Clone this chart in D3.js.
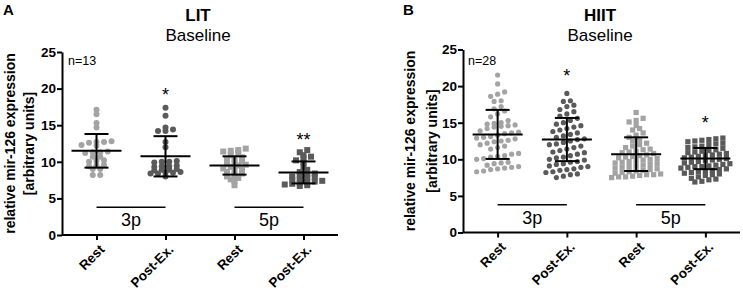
<!DOCTYPE html>
<html>
<head>
<meta charset="utf-8">
<script src="https://cdn.jsdelivr.net/npm/d3@7"></script>
<style>
  body { margin: 0; background: #fff; }
  svg { font-family: "Liberation Sans", Arial, sans-serif; }
</style>
</head>
<body>
<svg id="chart" width="743" height="295"></svg>
<script>
// -----------------------------------------------------------------------------
// Data
// -----------------------------------------------------------------------------

var categories = ["Rest", "Post-Ex.", "Rest", "Post-Ex."];
var primers = ["3p", "5p"];
var yTicks = [0, 5, 10, 15, 20, 25];

// LIT, n=13
var litRest3p = [17.1, 16.5, 15.3, 14.7, 12.8, 12.7, 12.6, 12.7, 12.2, 12.3, 11.3, 11.4, 11.2,
  11.3, 10.7, 10.7, 10.1, 10.0, 10.2, 9.5, 9.4, 9.6, 9.0, 9.0, 8.2, 8.2];
var litPost3p = [17.4, 16.3, 14.7, 14.2, 14.2, 14.4, 12.7, 12.0, 10.0, 10.0, 10.1, 9.9, 9.4,
  9.5, 9.4, 9.3, 8.9, 8.9, 9.0, 8.8, 8.5, 8.4, 8.5, 8.6, 8.4, 8.0];
var litRest5p = [11.8, 11.6, 11.5, 11.4, 11.2, 10.9, 10.6, 10.4, 10.3, 10.1, 9.9, 9.7, 9.6,
  9.5, 9.3, 9.1, 9.0, 8.8, 8.6, 8.4, 8.2, 8.0, 7.8, 7.6, 7.4, 6.8];
var litPost5p = [11.6, 11.3, 10.9, 10.7, 10.5, 10.2, 9.9, 9.4, 8.9, 8.6, 8.4, 8.3, 8.1,
  8.0, 7.9, 7.8, 7.6, 7.5, 7.4, 7.3, 7.2, 7.1, 7.0, 6.9, 6.8, 6.7];
var litMean = [11.5, 10.75, 9.5, 8.55];
var litSd = [2.3, 2.75, 1.25, 1.5];
var litStars = ["", "*", "", "**"];
var litStarAt = [null, 18.3, null, 12.2];

// HIIT, n=28
var hiitRest3p = [21.5, 20.3, 19.2, 18.9, 18.6, 18.0, 17.9, 17.2, 16.9, 16.6, 16.2, 15.8, 15.3, 15.0,
  14.9, 14.8, 14.6, 14.5, 14.4, 14.2, 13.9, 13.7, 13.5, 13.3, 13.1, 13.0, 12.8, 12.6,
  12.4, 12.2, 12.0, 11.8, 11.6, 11.4, 14.7, 13.6, 10.8, 10.7, 10.5, 10.4, 10.3, 10.1,
  10.0, 12.9, 12.5, 9.6, 9.5, 9.4, 9.2, 9.0, 8.9, 8.8, 8.7, 8.6, 8.4, 8.3];
var hiitPost3p = [19.0, 18.0, 17.9, 17.4, 17.2, 16.8, 16.5, 16.2, 15.9, 15.6, 15.3, 15.0, 14.8, 14.6,
  14.4, 14.2, 14.0, 13.8, 13.6, 13.4, 13.2, 13.0, 12.8, 12.7, 12.5, 12.3, 12.1, 12.0,
  11.8, 11.6, 11.4, 11.2, 11.0, 10.9, 10.7, 10.5, 10.3, 10.2, 10.0, 9.9, 9.7, 9.6,
  9.4, 9.3, 9.1, 9.0, 8.9, 8.7, 8.6, 8.5, 8.3, 8.2, 8.0, 7.9, 7.7, 7.5];
var hiitRest5p = [16.4, 15.6, 15.3, 15.1, 14.6, 14.2, 14.0, 13.6, 13.3, 13.0, 12.7, 12.5, 12.2, 12.0,
  11.8, 11.6, 11.4, 11.3, 11.1, 11.0, 10.9, 10.8, 10.6, 10.5, 10.4, 10.3, 10.2, 10.1,
  10.0, 9.9, 9.8, 9.7, 9.6, 9.5, 9.4, 9.3, 9.2, 9.1, 9.0, 8.9, 8.8, 8.7,
  8.6, 8.5, 8.4, 8.3, 8.2, 8.1, 8.0, 7.9, 7.9, 7.8, 7.7, 7.6, 7.6, 7.5];
var hiitPost5p = [12.9, 12.8, 12.7, 12.6, 12.5, 12.4, 12.2, 12.1, 12.0, 11.8, 11.7, 11.6, 11.5, 11.3,
  11.2, 11.1, 11.0, 10.9, 10.8, 10.7, 10.6, 10.5, 10.4, 10.3, 10.2, 10.1, 10.0, 9.9,
  9.8, 9.7, 9.6, 9.5, 9.4, 9.3, 9.2, 9.1, 9.0, 9.0, 8.9, 8.8, 8.7, 8.6,
  8.5, 8.4, 8.3, 8.2, 8.1, 8.0, 7.9, 7.8, 7.6, 7.4, 7.2, 7.0, 6.9, 7.3];
var hiitMean = [13.4, 12.7, 10.7, 10.1];
var hiitSd = [3.35, 2.95, 2.3, 1.45];
var hiitStars = ["", "*", "", "*"];
var hiitStarAt = [null, 20.6, null, 14.2];

var bracketLevel = 3.8;

// -----------------------------------------------------------------------------
// Layout / style
// -----------------------------------------------------------------------------

var REST_COLOR = "#a3a3a3";
var POST_COLOR = "#5a5a5a";

var panels = [
  {
    letter: "A", title: "LIT", n: "n=13",
    groups: [litRest3p, litPost3p, litRest5p, litPost5p],
    means: litMean, sds: litSd, stars: litStars, starAt: litStarAt,
    left: 62, right: 338, top: 52, bottom: 235,
    letterX: 3, titleX: 198, labelX: 15, label2X: 34, n_x: 68,
    size: 6, dx: 7.5, step3p: 0.6, step5p: 0.55
  },
  {
    letter: "B", title: "HIIT", n: "n=28",
    groups: [hiitRest3p, hiitPost3p, hiitRest5p, hiitPost5p],
    means: hiitMean, sds: hiitSd, stars: hiitStars, starAt: hiitStarAt,
    left: 463, right: 740, top: 49.5, bottom: 232.5,
    letterX: 403, titleX: 600, labelX: 415, label2X: 437, n_x: 468,
    size: 5.2, dx: 7, step3p: 0.95, step5p: 0.7
  }
];

// -----------------------------------------------------------------------------
// Helpers
// -----------------------------------------------------------------------------

// GraphPad-like scatter: values falling into the same row are spread sideways
function swarm(values, step, dx) {
  var rows = d3.group(values, function(v) { return Math.round(v / step); });
  var out = [];
  rows.forEach(function(row) {
    row.sort(d3.ascending);
    row.forEach(function(v, i) {
      out.push({v: v, off: (i - (row.length - 1) / 2) * dx});
    });
  });
  return out;
}

var svg = d3.select("#chart");

function drawPanel(p) {
  var g = svg.append("g");

  var xScale = d3.scalePoint()
      .domain([0, 1, 2, 3])
      .range([p.left, p.right])
      .padding(0.5);

  var yScale = d3.scaleLinear()
      .domain([0, 25])
      .range([p.bottom, p.top]);

  // headers
  g.append("text")
      .attr("x", p.letterX).attr("y", 15)
      .attr("font-size", 15).attr("font-weight", "bold")
      .text(p.letter);
  g.append("text")
      .attr("x", p.titleX).attr("y", 21)
      .attr("text-anchor", "middle")
      .attr("font-size", 17).attr("font-weight", "bold")
      .text(p.title);
  g.append("text")
      .attr("x", p.titleX).attr("y", 41)
      .attr("text-anchor", "middle")
      .attr("font-size", 17)
      .text("Baseline");
  g.append("text")
      .attr("x", p.n_x).attr("y", 65)
      .attr("font-size", 12.5)
      .text(p.n);

  // y axis title
  var yMid = (p.top + p.bottom) / 2;
  g.append("text")
      .attr("transform", "translate(" + p.labelX + "," + yMid + ") rotate(-90)")
      .attr("text-anchor", "middle")
      .attr("font-size", 14).attr("font-weight", "bold")
      .text("relative mir-126 expression");
  g.append("text")
      .attr("transform", "translate(" + p.label2X + "," + yMid + ") rotate(-90)")
      .attr("text-anchor", "middle")
      .attr("font-size", 14).attr("font-weight", "bold")
      .text("[arbitrary units]");

  // axes
  var yAxis = g.append("g")
      .attr("transform", "translate(" + p.left + ",0)")
      .call(d3.axisLeft(yScale).tickValues(yTicks).tickSize(5).tickSizeOuter(0).tickPadding(1));

  var xAxis = g.append("g")
      .attr("transform", "translate(0," + p.bottom + ")")
      .call(d3.axisBottom(xScale).tickSize(5).tickSizeOuter(0)
          .tickFormat(function(i) { return categories[i]; }));

  xAxis.select(".domain").attr("d", "M" + p.left + ",0H" + p.right);

  [yAxis, xAxis].forEach(function(ax) {
    ax.select(".domain").attr("stroke", "#000").attr("stroke-width", 2);
    ax.selectAll(".tick line").attr("stroke", "#000").attr("stroke-width", 2);
    ax.selectAll("text")
        .attr("font-family", "Liberation Sans, Arial, sans-serif")
        .attr("font-size", 13.5).attr("font-weight", "bold").attr("fill", "#000");
  });

  xAxis.selectAll(".tick text")
      .attr("x", 0).attr("y", 0).attr("dy", "0.35em")
      .attr("transform", "translate(5,12) rotate(-45)")
      .attr("text-anchor", "end");

  // points
  p.groups.forEach(function(values, i) {
    var isRest = i % 2 === 0;
    var is3p = i < 2;
    var color = isRest ? REST_COLOR : POST_COLOR;
    var pts = swarm(values, is3p ? p.step3p : p.step5p, p.dx);
    var cx = xScale(i);
    if (is3p) {
      g.append("g").selectAll("circle")
          .data(pts)
        .enter().append("circle")
          .attr("cx", function(d) { return cx + d.off; })
          .attr("cy", function(d) { return yScale(d.v); })
          .attr("r", p.size / 2)
          .attr("fill", color);
    } else {
      g.append("g").selectAll("rect")
          .data(pts)
        .enter().append("rect")
          .attr("x", function(d) { return cx + d.off - p.size / 2; })
          .attr("y", function(d) { return yScale(d.v) - p.size / 2; })
          .attr("width", p.size).attr("height", p.size)
          .attr("fill", color);
    }
  });

  // mean and SD
  var bars = g.append("g").attr("stroke", "#000").attr("stroke-width", 2);
  p.means.forEach(function(m, i) {
    var cx = xScale(i);
    var hi = yScale(m + p.sds[i]);
    var lo = yScale(m - p.sds[i]);
    bars.append("line").attr("x1", cx - 25).attr("x2", cx + 25)
        .attr("y1", yScale(m)).attr("y2", yScale(m));
    bars.append("line").attr("x1", cx).attr("x2", cx).attr("y1", hi).attr("y2", lo);
    bars.append("line").attr("x1", cx - 12).attr("x2", cx + 12).attr("y1", hi).attr("y2", hi);
    bars.append("line").attr("x1", cx - 12).attr("x2", cx + 12).attr("y1", lo).attr("y2", lo);
  });

  // significance stars
  p.stars.forEach(function(s, i) {
    if (!s) return;
    g.append("text")
        .attr("x", xScale(i)).attr("y", yScale(p.starAt[i]))
        .attr("text-anchor", "middle")
        .attr("font-size", 18)
        .text(s);
  });

  // primer brackets
  primers.forEach(function(name, k) {
    var x1 = xScale(2 * k), x2 = xScale(2 * k + 1);
    var y = yScale(bracketLevel);
    g.append("line")
        .attr("x1", x1).attr("x2", x2).attr("y1", y).attr("y2", y)
        .attr("stroke", "#000").attr("stroke-width", 1.5);
    g.append("text")
        .attr("x", (x1 + x2) / 2).attr("y", y + 19)
        .attr("text-anchor", "middle")
        .attr("font-size", 18)
        .text(name);
  });
}

panels.forEach(drawPanel);
</script>
</body>
</html>
